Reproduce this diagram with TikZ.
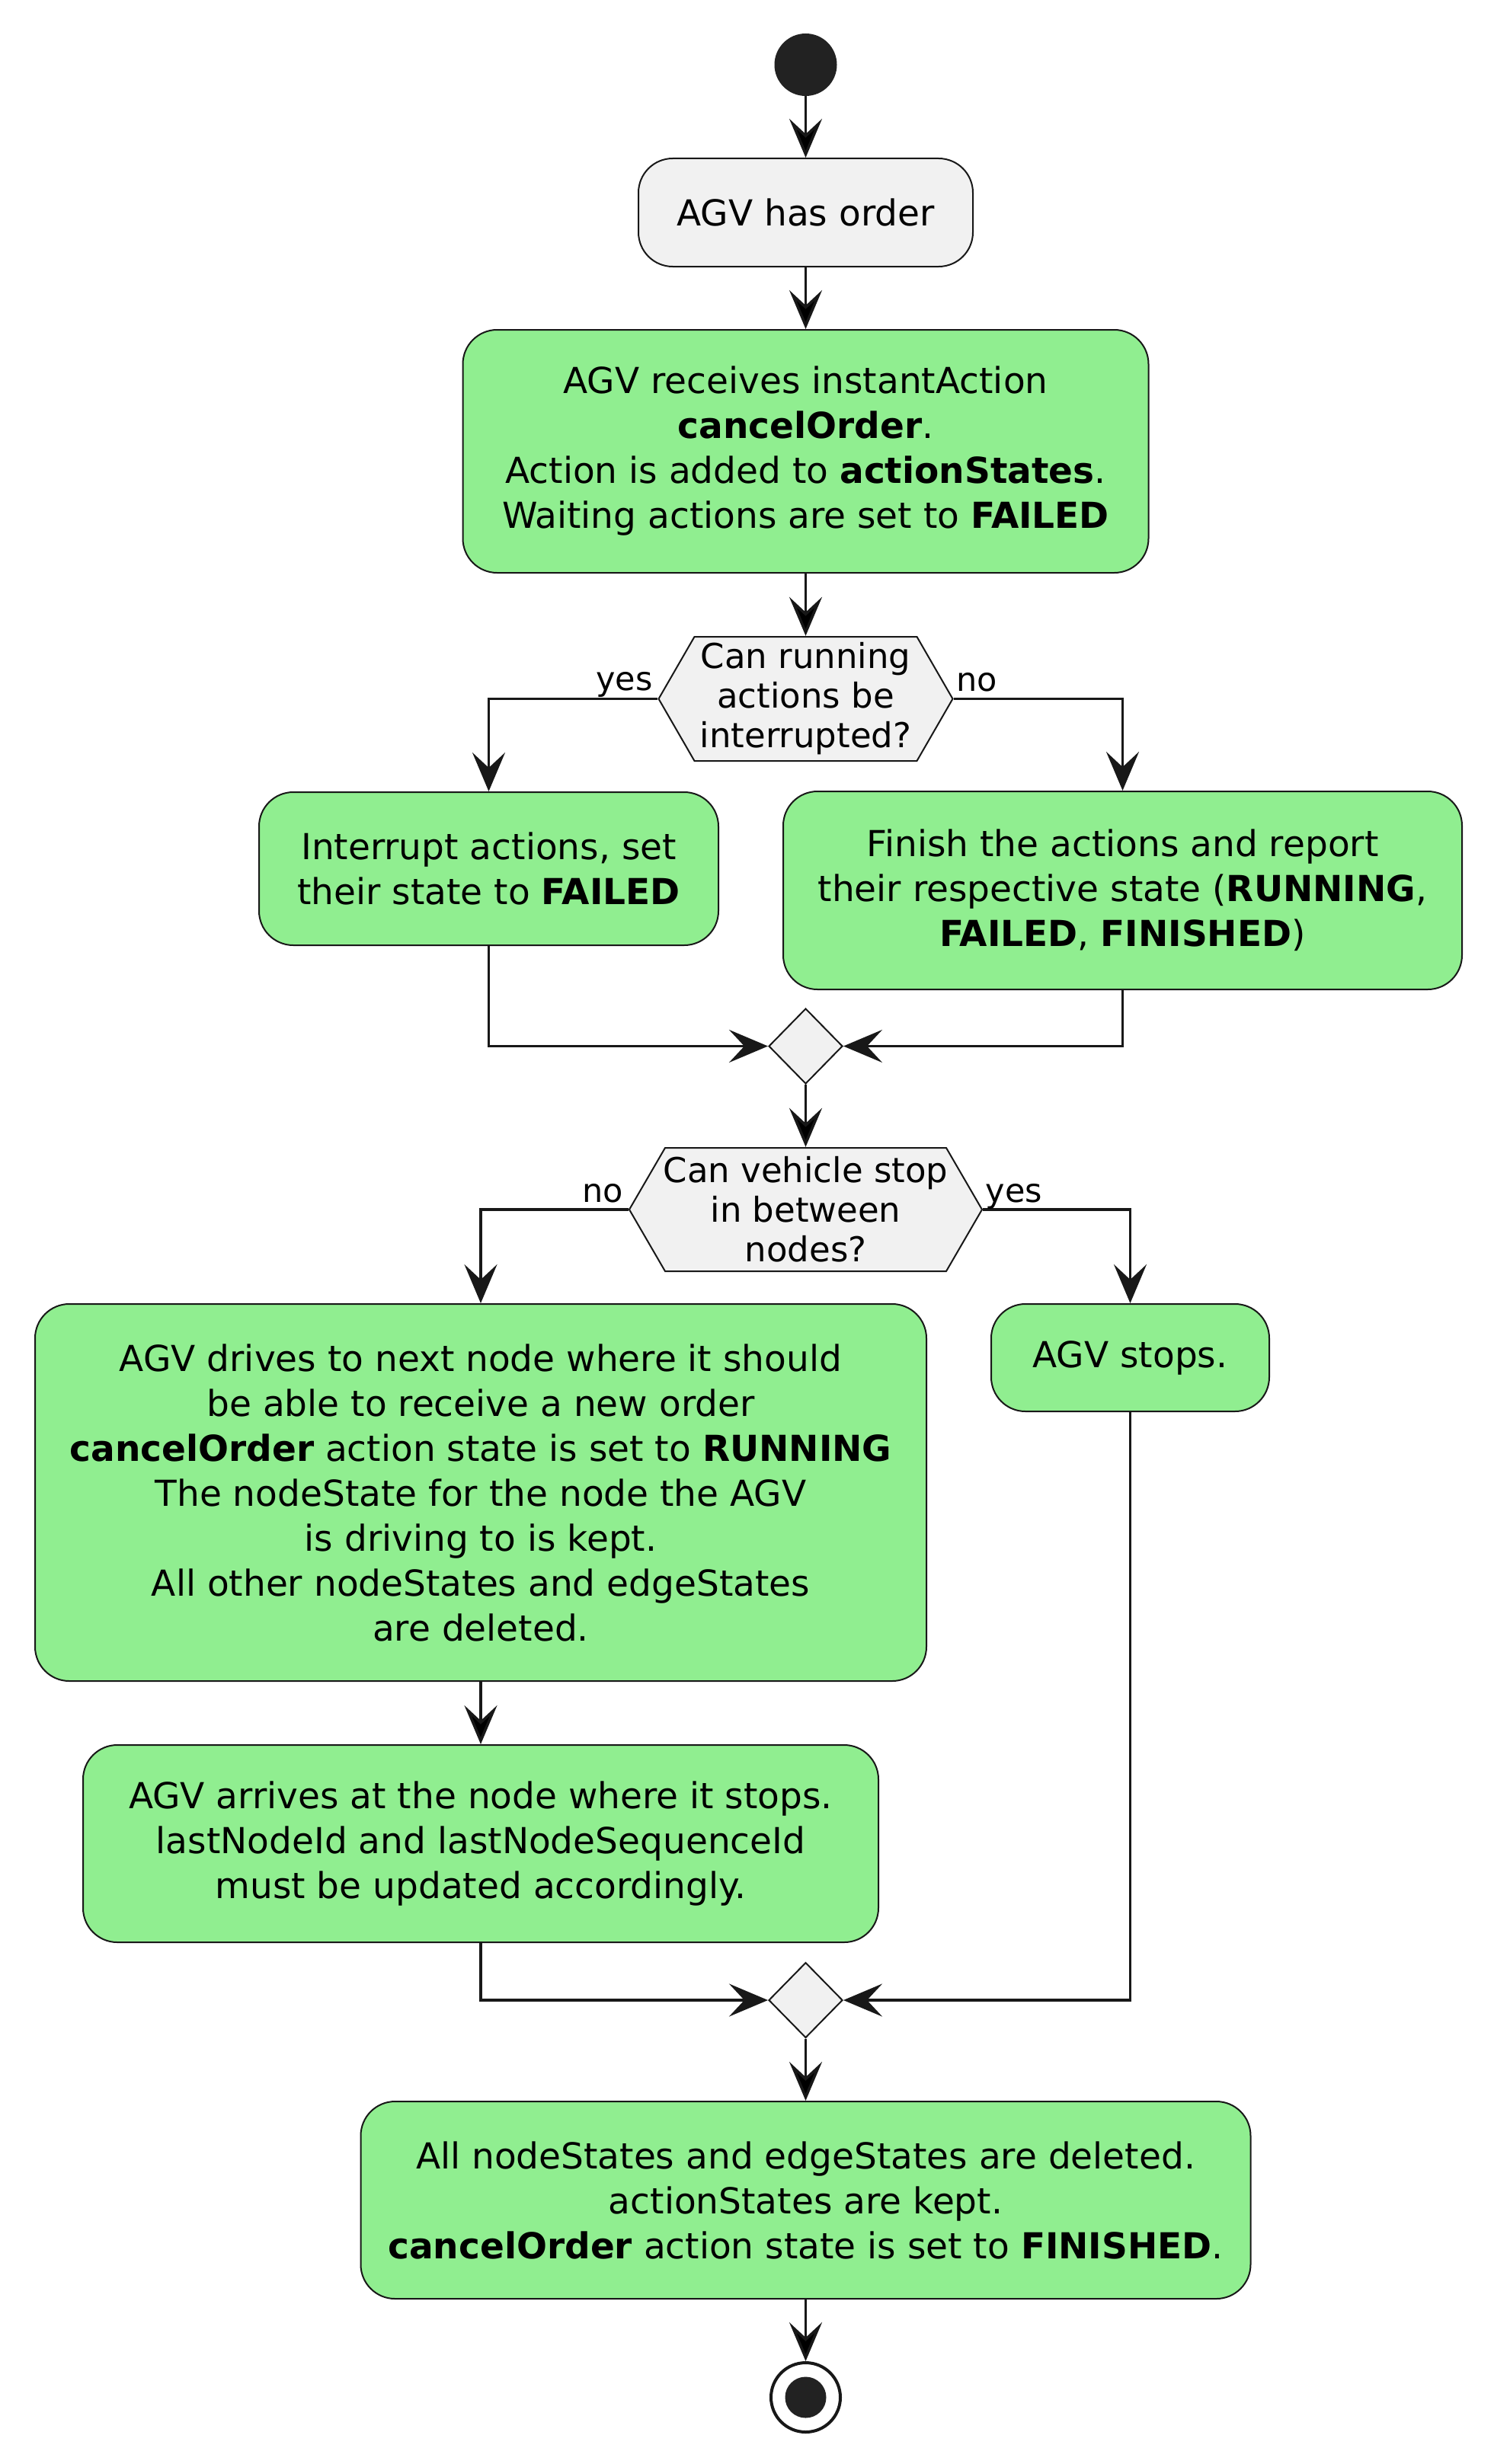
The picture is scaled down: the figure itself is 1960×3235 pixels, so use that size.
\documentclass[tikz,border=0pt]{standalone}
\usepackage{fontspec}
\setmainfont{DejaVu Sans}
\usetikzlibrary{arrows.meta, shapes.geometric, positioning}

\definecolor{actgreen}{HTML}{90EE90}
\definecolor{lgray}{HTML}{F1F1F1}
\definecolor{dark}{HTML}{181818}
\definecolor{dot}{HTML}{222222}

\begin{document}
\begin{tikzpicture}[x=1pt,y=-1pt,->,>={Stealth[length=51pt,width=43pt,inset=20pt]},
 act node/.style={rectangle,rounded corners=45pt,draw=dark,line width=2pt,fill=actgreen,
   inner sep=0pt,align=center,font=\fontsize{47}{59}\selectfont},
 dec node/.style={rectangle,inner sep=0pt,align=center,font=\fontsize{45}{52}\selectfont,
   path picture={\draw[-,draw=dark,fill=lgray,line width=2pt]
     ([xshift=1pt]path picture bounding box.west)
     -- ([xshift=48pt,yshift=-1pt]path picture bounding box.north west)
     -- ([xshift=-48pt,yshift=-1pt]path picture bounding box.north east)
     -- ([xshift=-1pt]path picture bounding box.east)
     -- ([xshift=-48pt,yshift=1pt]path picture bounding box.south east)
     -- ([xshift=48pt,yshift=1pt]path picture bounding box.south west) -- cycle;}},
 merge node/.style={diamond,draw=dark,line width=2pt,fill=lgray,inner sep=0pt,
   minimum width=97pt,minimum height=99pt},
 start node/.style={circle,fill=dot,inner sep=0pt,minimum size=82pt},
 end node/.style={circle,draw=dark,line width=4pt,fill=white,inner sep=0pt,minimum size=91pt,
   path picture={\fill[dot] (path picture bounding box.center) circle (27pt);}},
 flow/.style={draw=dark,line width=3.5pt},
 lbl/.style={inner sep=0pt,font=\fontsize{43}{50}\selectfont}]

  \useasboundingbox (0,0) rectangle (1960,3235);

  \node[start node] (start) at (1057.5,85) {};
  \node[act node,fill=lgray,minimum width=439pt,minimum height=142pt] (order) at (1057.5,279) {AGV has order};
  \node[act node,minimum width=900pt,minimum height=319pt] (recv) at (1057.5,592.5)
    {AGV receives instantAction\\\textbf{cancelOrder}.\\Action is added to \textbf{actionStates}.\\Waiting actions are set to \textbf{FAILED}};
  \node[dec node,minimum width=388pt,minimum height=165pt] (q1) at (1057.5,917.5) {Can running\\actions be\\interrupted?};
  \node[act node,minimum width=603pt,minimum height=201pt] (intr) at (641.5,1140.5)
    {Interrupt actions, set\\their state to \textbf{FAILED}};
  \node[act node,minimum width=891pt,minimum height=260pt] (fin) at (1473.5,1169)
    {Finish the actions and report\\their respective state (\textbf{RUNNING},\\\textbf{FAILED}, \textbf{FINISHED})};
  \node[merge node] (m1) at (1057.5,1373.5) {};
  \node[dec node,minimum width=465pt,minimum height=164pt] (q2) at (1057.5,1588) {Can vehicle stop\\in between\\nodes?};
  \node[act node,minimum width=1170pt,minimum height=495pt] (drive) at (631,1959.5)
    {AGV drives to next node where it should\\be able to receive a new order\\\textbf{cancelOrder} action state is set to \textbf{RUNNING}\\The nodeState for the node the AGV\\is driving to is kept.\\All other nodeStates and edgeStates\\are deleted.};
  \node[act node,minimum width=365pt,minimum height=141pt] (stop) at (1483.5,1782.5) {AGV stops.};
  \node[act node,minimum width=1044pt,minimum height=259pt] (arrive) at (631,2420.5)
    {AGV arrives at the node where it stops.\\lastNodeId and lastNodeSequenceId\\must be updated accordingly.};
  \node[merge node] (m2) at (1057.5,2626) {};
  \node[act node,minimum width=1168pt,minimum height=259pt] (done) at (1057.5,2888.5)
    {All nodeStates and edgeStates are deleted.\\actionStates are kept.\\\textbf{cancelOrder} action state is set to \textbf{FINISHED}.};
  \node[end node] (end) at (1057.5,3147.5) {};

  \foreach \s/\t in {start/order, order/recv, recv/q1, m1/q2, drive/arrive, m2/done, done/end} {
   \path[flow] (\s) edge (\t);}

  \draw[flow] (q1.west) node[lbl,anchor=base east,xshift=-5pt,yshift=11pt] {yes} -| (intr.north);
  \draw[flow] (q1.east) node[lbl,anchor=base west,xshift=2pt,yshift=10pt] {no} -| (fin.north);
  \draw[flow] (intr.south) |- (m1.west);
  \draw[flow] (fin.south) |- (m1.east);

  \draw[flow] (q2.west) node[lbl,anchor=base east,xshift=-5pt,yshift=10pt] {no} -| (drive.north);
  \draw[flow] (q2.east) node[lbl,anchor=base west,xshift=2pt,yshift=10pt] {yes} -| (stop.north);
  \draw[flow] (arrive.south) |- (m2.west);
  \draw[flow] (stop.south) |- (m2.east);
\end{tikzpicture}
\end{document}
